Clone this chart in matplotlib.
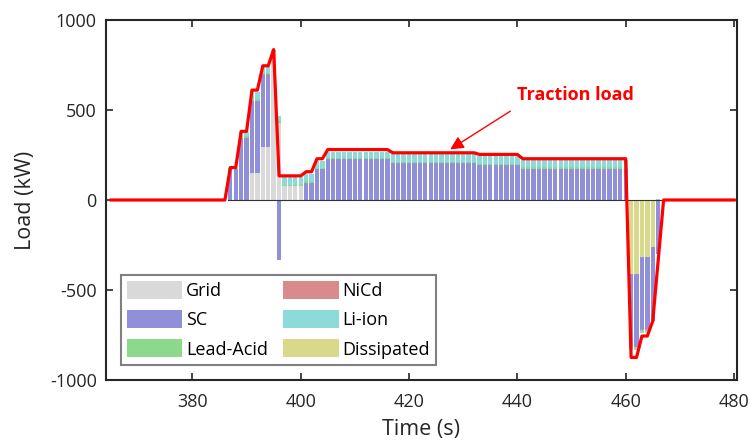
import numpy as np
import matplotlib.pyplot as plt
from matplotlib.patches import Patch

plt.rcParams['font.family'] = ['Open Sans', 'DejaVu Sans']
plt.rcParams['axes.unicode_minus'] = False

# bar times (s), one bar per second
t_bar = np.arange(387, 467)

# power share of each source (kW), read per second from the figure
grid = ([0]*2 + [0]*2 + [152]*2 + [293]*2 + [820] + [428] + [75]*4 + [0]*4
        + [0]*12 + [0]*16 + [0]*8 + [0]*20 + [0]*2 + [0]*2 + [0] + [0])
sc = ([172]*2 + [345]*2 + [395]*2 + [400]*2 + [0] + [-333] + [0]*4 + [97]*2 + [170]*2
      + [225]*12 + [203]*16 + [192]*8 + [174]*20 + [-400]*2 + [-400]*2 + [-410] + [-300])
nicd = ([0]*2 + [0]*2 + [5]*2 + [5]*2 + [0] + [0] + [0]*4 + [0]*4
        + [0]*12 + [0]*16 + [0]*8 + [0]*20 + [-5]*2 + [-5]*2 + [0] + [0])
lead_acid = ([0]*2 + [8]*2 + [8]*2 + [8]*2 + [0] + [8] + [8]*4 + [9]*2 + [10]*2
             + [9]*12 + [9]*16 + [9]*8 + [11]*20 + [-5]*2 + [-5]*2 + [0] + [0])
li_ion = ([5]*2 + [22]*2 + [40]*2 + [32]*2 + [10] + [31] + [42]*4 + [37]*2 + [38]*2
          + [31]*12 + [44]*16 + [42]*8 + [35]*20 + [-10]*2 + [-12]*2 + [0] + [8])
dissipated = ([0]*2 + [0]*2 + [0]*2 + [0]*2 + [0] + [0] + [0]*4 + [0]*4
              + [0]*12 + [0]*16 + [0]*8 + [0]*20 + [-412]*2 + [-318]*2 + [-260] + [0])

# traction load breakpoints (s, kW)
load_t = [365, 386, 387, 388, 389, 390, 391, 392, 393, 394, 395, 396, 400, 401, 402,
          403, 404, 405, 416, 417, 432, 433, 440, 441, 460, 461, 462, 463, 464, 465, 467, 480]
load_kw = [0, 0, 180, 180, 381, 381, 610, 610, 745, 745, 835, 134, 134, 157, 157,
           229, 229, 280, 280, 262, 262, 253, 253, 229, 229, -874, -874, -755, -755, -672, 0, 0]

series = [('Dissipated', dissipated, '#d9d98c'),
          ('Grid', grid, '#d9d9d9'),
          ('SC', sc, '#8f8fda'),
          ('NiCd', nicd, '#d98b8b'),
          ('Lead-Acid', lead_acid, '#8cd98c'),
          ('Li-ion', li_ion, '#8cdada')]
colors = {name: c for name, vals, c in series}

fig = plt.figure(figsize=(7.5, 4.41), dpi=100)
ax = fig.add_axes([0.141, 0.138, 0.842, 0.817])

pos = np.zeros(len(t_bar))
neg = np.zeros(len(t_bar))
for name, vals, c in series:
    v = np.array(vals, dtype=float)
    bottom = np.where(v >= 0, pos, neg)
    ax.bar(t_bar, v, width=0.8, bottom=bottom, color=c, linewidth=0, zorder=2)
    pos = pos + np.clip(v, 0, None)
    neg = neg + np.clip(v, None, 0)

ax.plot([t_bar[0] - 0.5, t_bar[-1] + 0.5], [0, 0], color='#333333', lw=0.8, zorder=3)
ax.plot(load_t, load_kw, color='red', lw=2.3, zorder=4)

ax.text(450.7, 582, 'Traction load', color='red', fontsize=13, fontweight='bold',
        ha='center', va='center')
ax.annotate('', xy=(427.6, 281), xytext=(438.7, 493),
            arrowprops=dict(arrowstyle='-|>', color='red', lw=1, mutation_scale=20,
                            shrinkA=0, shrinkB=0))

ax.set_xlim(364, 480.6)
ax.set_ylim(-1000, 1000)
ax.set_xticks([380, 400, 420, 440, 460, 480])
ax.set_yticks([-1000, -500, 0, 500, 1000])
ax.tick_params(direction='in', length=5, width=1.2, labelsize=13, colors='#262626',
               top=True, right=True)
ax.tick_params(axis='x', pad=9)
ax.tick_params(axis='y', pad=6.5)
for s in ax.spines.values():
    s.set_linewidth(1.5)
    s.set_color('#262626')
ax.set_xlabel('Time (s)', fontsize=15.5, color='#262626', labelpad=6)
ax.set_ylabel('Load (kW)', fontsize=15.5, color='#262626', labelpad=10)

order = ['Grid', 'SC', 'Lead-Acid', 'NiCd', 'Li-ion', 'Dissipated']
handles = [Patch(facecolor=colors[n], edgecolor='none', label=n) for n in order]
leg = ax.legend(handles=handles, ncol=2, loc='upper left', bbox_to_anchor=(0.024, 0.292),
                borderaxespad=0, fontsize=13, handlelength=3.05, handleheight=1.16,
                handletextpad=0.2, columnspacing=0.87, labelspacing=0.55,
                borderpad=0.35, fancybox=False, framealpha=1)
leg.get_frame().set_edgecolor('#808080')
leg.get_frame().set_linewidth(1.5)

fig.savefig('out.png', dpi=100)
